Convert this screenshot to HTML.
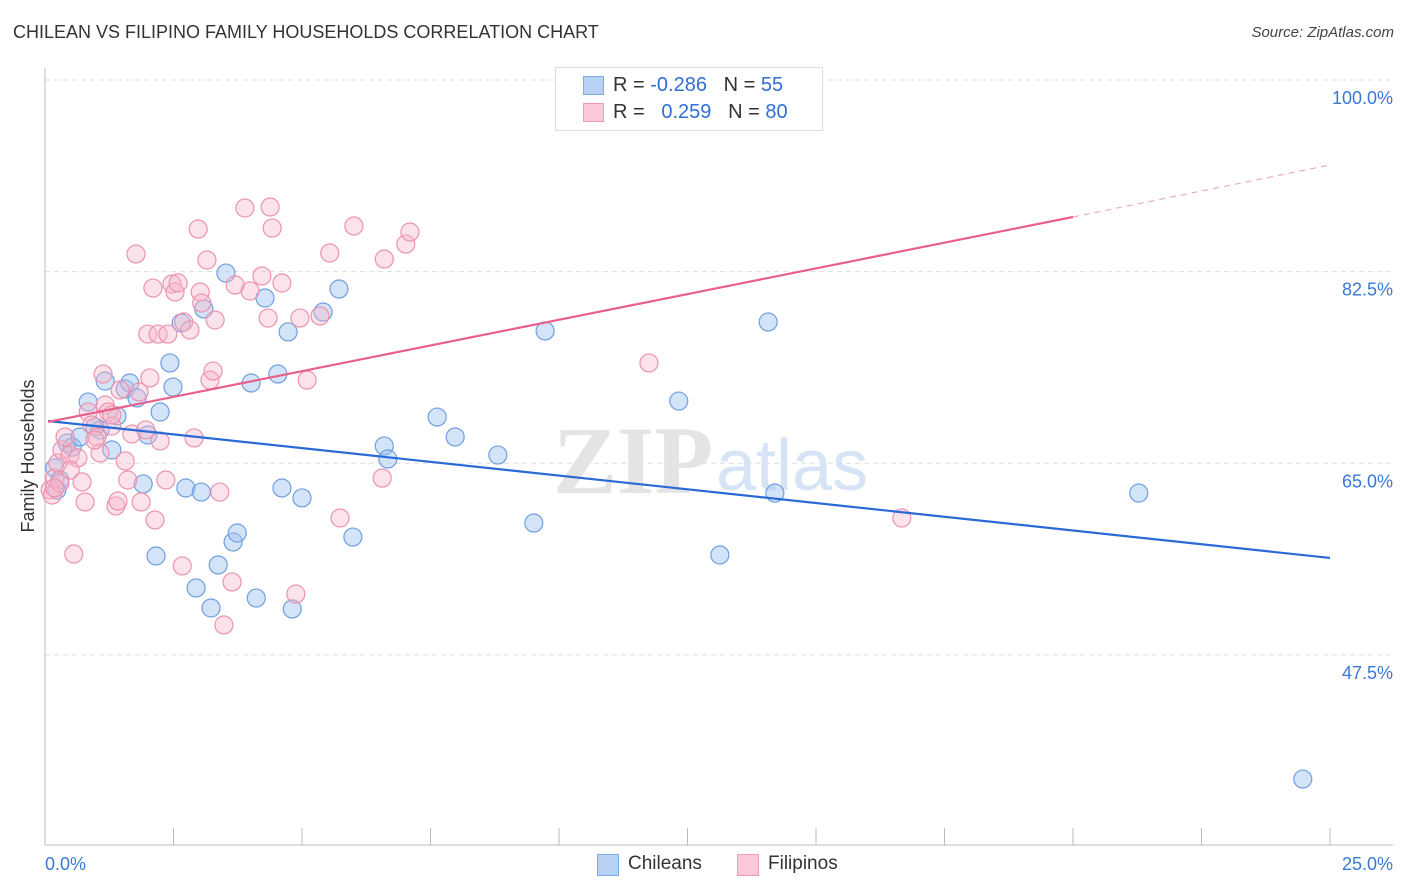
<!DOCTYPE html>
<html><head><meta charset="utf-8">
<style>
body{margin:0;background:#fff;font-family:"Liberation Sans",sans-serif;}
#wrap{position:relative;width:1406px;height:892px;overflow:hidden;}
.t{position:absolute;white-space:nowrap;}
</style></head>
<body>
<div id="wrap">
<div class="t" style="left:13px;top:22px;font-size:18px;color:#333;">CHILEAN VS FILIPINO FAMILY HOUSEHOLDS CORRELATION CHART</div>
<div class="t" style="right:12px;top:24px;font-size:15px;color:#444;font-style:italic;">Source: ZipAtlas.com</div>
<svg id="svg" width="1406" height="892" style="position:absolute;left:0;top:0"></svg>
<div style="position:absolute;left:555px;top:67px;width:266px;height:62px;border:1px solid #ddd;background:#fff;">
 <div style="position:absolute;left:27px;top:8px;width:19px;height:17px;background:#b7d2f5;border:1px solid #7eaae6;"></div>
 <div class="t" style="left:57px;top:6px;font-size:20px;color:#333;">R = <span style="color:#2f6fd6">-0.286</span>&nbsp;&nbsp;&nbsp;N = <span style="color:#2f6fd6">55</span></div>
 <div style="position:absolute;left:27px;top:35px;width:19px;height:17px;background:#fac8d6;border:1px solid #f09ab4;"></div>
 <div class="t" style="left:57px;top:33px;font-size:20px;color:#333;">R = &nbsp;&nbsp;<span style="color:#2f6fd6">0.259</span>&nbsp;&nbsp;&nbsp;N = <span style="color:#2f6fd6">80</span></div>
</div>
<div style="position:absolute;left:597px;top:854px;">
 <div style="position:absolute;left:0;top:0;width:20px;height:20px;background:#b7d2f5;border:1px solid #7eaae6;"></div>
 <div class="t" style="left:31px;top:-1px;font-size:19px;color:#333;">Chileans</div>
</div>
<div style="position:absolute;left:737px;top:854px;">
 <div style="position:absolute;left:0;top:0;width:20px;height:20px;background:#fac8d6;border:1px solid #f09ab4;"></div>
 <div class="t" style="left:31px;top:-1px;font-size:19px;color:#333;">Filipinos</div>
</div>
</div>
<script>
const yTicks=[100,82.5,65,47.5];
const yTickLabels=["100.0%","82.5%","65.0%","47.5%"];
const xTickLabels=["0.0%","25.0%"];
const chileanX=[0.19,0.23,0.29,0.43,0.53,0.68,0.84,0.97,1.07,1.17,1.30,1.40,1.56,1.65,1.79,1.91,2.00,2.16,2.24,2.43,2.49,2.65,2.74,2.94,3.04,3.09,3.23,3.37,3.52,3.66,3.74,4.01,4.11,4.28,4.53,4.61,4.73,4.81,5.00,5.41,5.72,5.99,6.60,6.67,7.63,7.98,8.81,9.51,9.73,12.33,13.13,14.07,14.20,21.28,24.47];
const chileanY=[64.57,62.56,63.47,66.85,66.48,67.40,70.59,68.31,68.04,72.51,66.21,69.32,71.78,72.33,70.96,63.11,67.58,56.53,69.68,74.16,71.96,77.81,62.74,53.61,62.37,79.09,51.78,55.71,82.37,57.81,58.63,72.33,52.69,80.09,73.15,62.74,76.99,51.69,61.83,78.81,80.91,58.26,66.58,65.39,69.22,67.40,65.75,59.54,77.08,70.68,56.62,77.90,62.28,62.28,36.16];
const filipinoX=[0.10,0.14,0.19,0.25,0.29,0.33,0.39,0.49,0.56,0.64,0.72,0.78,0.84,0.91,1.01,1.07,1.13,1.17,1.23,1.30,1.38,1.42,1.46,1.56,1.61,1.69,1.77,1.83,1.87,1.96,2.00,2.04,2.10,2.14,2.20,2.24,2.35,2.39,2.47,2.53,2.59,2.67,2.70,2.82,2.90,2.98,3.02,3.05,3.15,3.21,3.27,3.31,3.40,3.48,3.64,3.70,3.89,3.99,4.22,4.34,4.38,4.42,4.61,4.88,4.96,5.10,5.35,5.54,5.74,6.01,6.56,6.60,7.02,7.10,11.75,16.67,0.97,0.49,1.30,0.19];
const filipinoY=[62.56,62.10,63.65,65.02,63.20,66.21,67.40,65.75,56.71,65.48,63.29,61.46,69.68,68.49,67.40,65.94,73.15,70.32,69.68,68.40,61.10,61.55,71.69,65.21,63.47,67.67,84.11,71.51,61.46,68.04,76.80,72.79,81.00,59.82,76.80,67.03,63.47,76.80,81.37,80.64,81.46,55.62,77.90,77.17,67.31,86.39,80.64,79.63,83.56,72.60,73.42,78.08,62.37,50.23,54.16,81.28,88.31,80.73,82.10,78.26,88.40,86.48,81.46,53.06,78.26,72.60,78.45,84.20,60.00,86.67,63.65,83.65,85.02,86.12,74.16,60.00,67.12,64.38,69.41,62.74];
const chileanTrend=[68.86,56.35];      // y at x=0 and x=25
const filipinoTrend=[68.77,87.49,92.24]; // y at x=0, x=20 (solid end), x=25

const X0=45,X1=1330,Y100=80,PXPER=10.95;
const sx=v=>X0+(v/25)*(X1-X0);
const sy=v=>Y100+(100-v)*PXPER;
const svg=document.getElementById('svg');
const NS='http://www.w3.org/2000/svg';
function mk(tag,attrs){const e=document.createElementNS(NS,tag);for(const k in attrs)e.setAttribute(k,attrs[k]);svg.appendChild(e);return e;}

// gridlines + y labels
yTicks.forEach((t,i)=>{
  const g=mk('line',{x1:45,x2:1393,y1:sy(t),y2:sy(t),stroke:'#ddd','stroke-dasharray':'5,4','stroke-width':1});
  
  
  const tx=mk('text',{x:1393,y:sy(t)+24,'text-anchor':'end','font-size':18,fill:'#3a78d6','font-family':'Liberation Sans, sans-serif'});
  tx.textContent=yTickLabels[i];
  
  
});
// axes
const ay=mk('line',{x1:45,x2:45,y1:68,y2:845,stroke:'#bbb','stroke-width':1});


const ax=mk('line',{x1:45,x2:1393,y1:845,y2:845,stroke:'#bbb','stroke-width':1});


for(let i=0;i<=10;i++){
  const x=sx(i*2.5);
  const tk=mk('line',{x1:x,x2:x,y1:828,y2:845,stroke:'#bbb','stroke-width':1});
  
  
}
const xl0=mk('text',{x:45,y:870,'font-size':18,fill:'#3a78d6','font-family':'Liberation Sans, sans-serif'});
xl0.textContent=xTickLabels[0];


const xl1=mk('text',{x:1393,y:870,'text-anchor':'end','font-size':18,fill:'#3a78d6','font-family':'Liberation Sans, sans-serif'});
xl1.textContent=xTickLabels[1];


const yt=mk('text',{x:0,y:0,'font-size':18,fill:'#333','text-anchor':'middle','font-family':'Liberation Sans, sans-serif',transform:'translate(34,456) rotate(-90)'});
yt.textContent='Family Households';


// watermark
const w1=mk('text',{x:553,y:493,'font-size':96,fill:'#e4e4e4','font-family':'Liberation Serif, serif','font-weight':'bold'});
w1.textContent='ZIP';


const w2=mk('text',{x:716,y:490,'font-size':72,fill:'#d6e4f5','font-family':'Liberation Sans, sans-serif'});
w2.textContent='atlas';


// points
chileanX.forEach((v,i)=>{
  const c=mk('circle',{cx:sx(v),cy:sy(chileanY[i]),r:9,fill:'rgba(160,196,240,0.45)',stroke:'#6f9fe0','stroke-width':1.2});
  
  
});
filipinoX.forEach((v,i)=>{
  const c=mk('circle',{cx:sx(v),cy:sy(filipinoY[i]),r:9,fill:'rgba(248,182,202,0.4)',stroke:'#ec93ae','stroke-width':1.2});
  
  
});
// trend lines
const bt=mk('line',{x1:sx(0.06),y1:sy(chileanTrend[0]),x2:sx(25),y2:sy(chileanTrend[1]),stroke:'#2a6ad6','stroke-width':2.2});


const pt=mk('line',{x1:sx(0.06),y1:sy(filipinoTrend[0]),x2:sx(20),y2:sy(filipinoTrend[1]),stroke:'#e8608a','stroke-width':2.2});


const pd=mk('line',{x1:sx(20),y1:sy(filipinoTrend[1]),x2:sx(25),y2:sy(filipinoTrend[2]),stroke:'#e8a0b6','stroke-width':1,'stroke-dasharray':'6,5'});


</script>
</body></html>
